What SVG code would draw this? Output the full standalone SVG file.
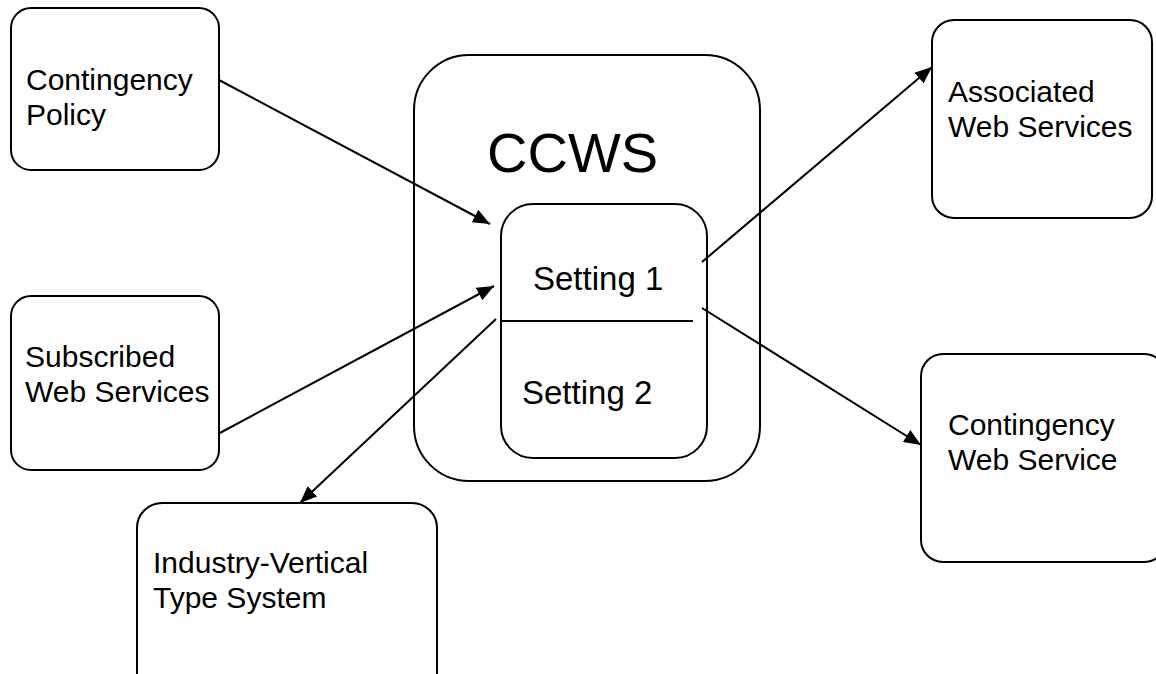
<svg xmlns="http://www.w3.org/2000/svg" width="1156" height="674" viewBox="0 0 1156 674">
  <defs>
    <marker id="arrow" markerUnits="userSpaceOnUse" markerWidth="18" markerHeight="14" refX="17" refY="7" orient="auto">
      <path d="M0,0 L17,7 L0,14 z" fill="#000"/>
    </marker>
    <style>
      .box { fill: #fff; stroke: #000; stroke-width: 2; }
      .label { font-family: "Liberation Sans", Arial, sans-serif; font-size: 30px; fill: #000; }
      .setting { font-family: "Liberation Sans", Arial, sans-serif; font-size: 33px; fill: #000; }
      .title { font-family: "Liberation Sans", Arial, sans-serif; font-size: 56px; fill: #000; }
      .conn { stroke: #000; stroke-width: 2; fill: none; }
    </style>
  </defs>
  <rect width="1156" height="674" fill="#fff"/>

  <g id="ccws">
    <rect class="box" x="414" y="55" width="346" height="426" rx="55" ry="55"/>
    <text class="title" x="487" y="172">CCWS</text>
  </g>

  <g id="settings">
    <rect class="box" x="501" y="204" width="206" height="254" rx="32" ry="32"/>
    <line x1="501" y1="321" x2="693" y2="321" stroke="#000" stroke-width="2"/>
    <text class="setting" x="533" y="290">Setting 1</text>
    <text class="setting" x="522" y="404">Setting 2</text>
  </g>

  <g id="contingency-policy">
    <rect class="box" x="11" y="8" width="208" height="162" rx="20" ry="20"/>
    <text class="label" x="26" y="90">Contingency</text>
    <text class="label" x="26" y="125">Policy</text>
  </g>

  <g id="subscribed-web-services">
    <rect class="box" x="11" y="296" width="208" height="174" rx="20" ry="20"/>
    <text class="label" x="25" y="367">Subscribed</text>
    <text class="label" x="25" y="402">Web Services</text>
  </g>

  <g id="industry-vertical-type-system">
    <rect class="box" x="137" y="503" width="300" height="200" rx="25" ry="25"/>
    <text class="label" x="153" y="573">Industry-Vertical</text>
    <text class="label" x="153" y="608">Type System</text>
  </g>

  <g id="associated-web-services">
    <rect class="box" x="932" y="20" width="220" height="198" rx="22" ry="22"/>
    <text class="label" x="948" y="102">Associated</text>
    <text class="label" x="948" y="137">Web Services</text>
  </g>

  <g id="contingency-web-service">
    <rect class="box" x="921" y="354" width="245" height="208" rx="22" ry="22"/>
    <text class="label" x="948" y="435">Contingency</text>
    <text class="label" x="948" y="470">Web Service</text>
  </g>

  <g id="connectors">
    <line class="conn" x1="219" y1="80" x2="490" y2="224" marker-end="url(#arrow)"/>
    <line class="conn" x1="218" y1="434" x2="494" y2="286" marker-end="url(#arrow)"/>
    <line class="conn" x1="496" y1="319" x2="300" y2="503" marker-end="url(#arrow)"/>
    <line class="conn" x1="702" y1="262" x2="932" y2="67" marker-end="url(#arrow)"/>
    <line class="conn" x1="702" y1="308" x2="921" y2="445" marker-end="url(#arrow)"/>
  </g>
</svg>
